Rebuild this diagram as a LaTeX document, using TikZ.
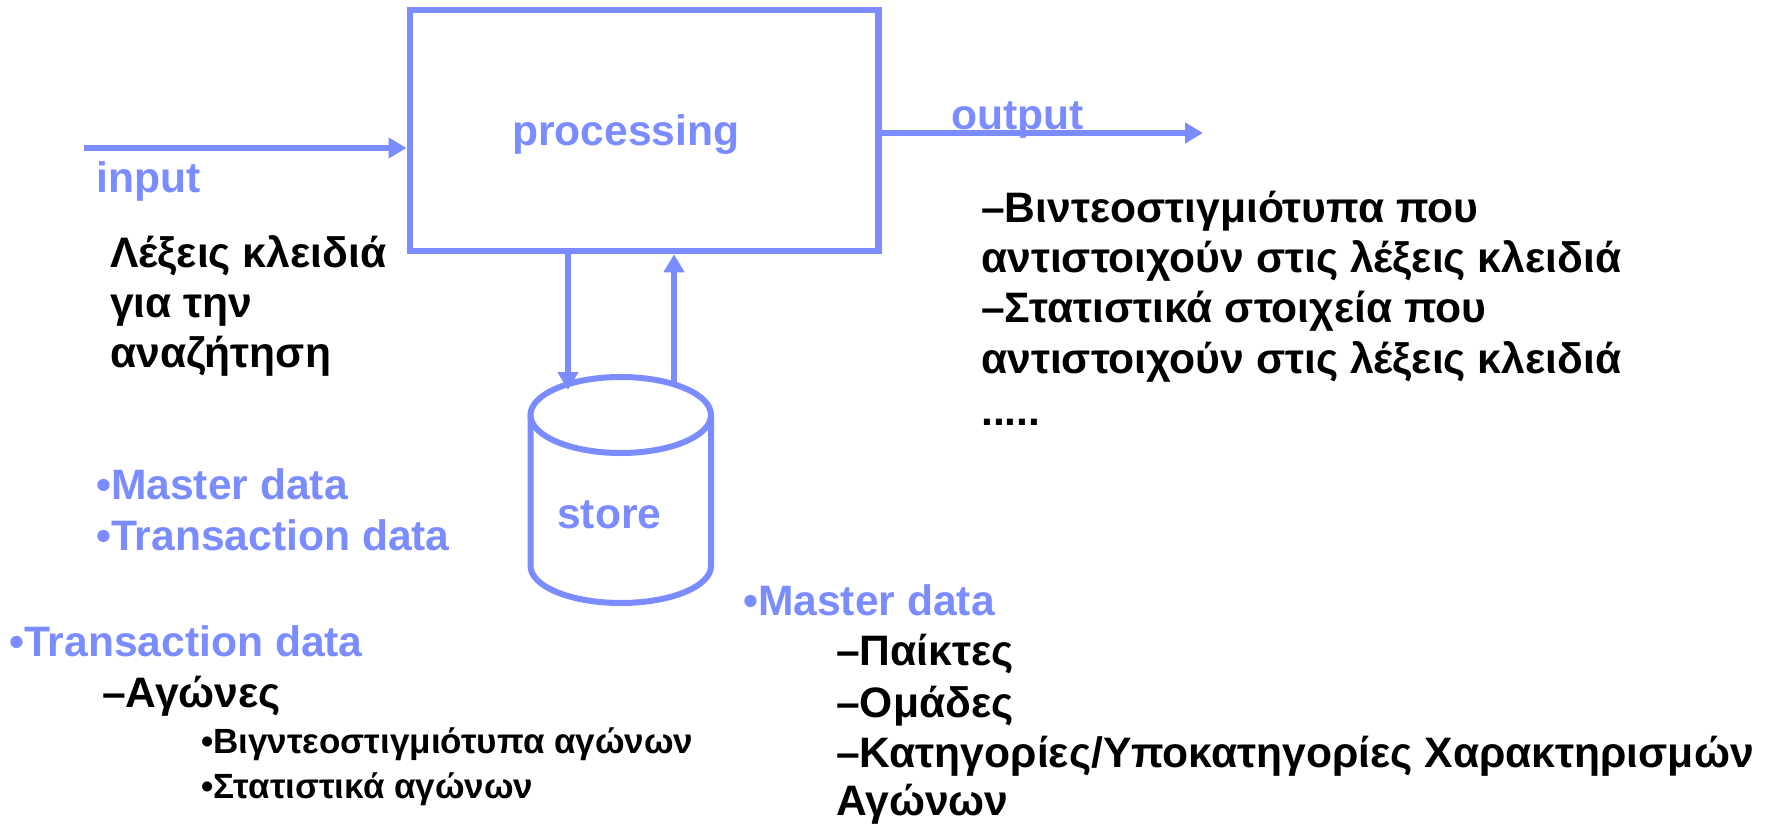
\documentclass[tikz,border=0pt]{standalone}
\usepackage{fontspec}
\setmainfont{Liberation Sans}
\usetikzlibrary{arrows.meta}
\definecolor{flowblue}{RGB}{122,140,255}
\tikzset{
  big/.style={inner sep=0pt, anchor=base west, font=\fontsize{42.6}{50}\bfseries\selectfont},
  small/.style={inner sep=0pt, anchor=base west, font=\fontsize{35}{42}\bfseries\selectfont},
  bluetext/.style={big, text=flowblue},
  blacktext/.style={big, text=black},
  subtext/.style={small, text=black},
  flow/.style={draw=flowblue, line width=6pt, -{Triangle[length=18pt,width=20pt]}},
  procbox/.style={draw=flowblue, line width=6.5pt, minimum width=468.5pt, minimum height=241pt, inner sep=0pt},
  dbline/.style={draw=flowblue, line width=6pt}
}
\begin{document}
\begin{tikzpicture}[x=1pt, y=-1pt]
\useasboundingbox (0,0) rectangle (1767,824);

% processing unit
\node[procbox] (proc) at (644,130.5) {};
\node[bluetext] (proclabel) at (512,146) {processing};

% data store drawn as a cylinder
\path[dbline] (530.5,415) -- (530.5,566) arc[start angle=180, end angle=360, x radius=90.25pt, y radius=37pt] -- (711,415);
\path[dbline] (620.75,415) ellipse[x radius=90.25pt, y radius=38pt];
\node[bluetext] (storelabel) at (557,528) {store};

% connectors
\coordinate (instart) at (84,148);
\coordinate (outend) at (1203,133);
\coordinate (dbin) at (568,390);
\coordinate (dbout) at (674,384);
\draw[flow] (instart) -- (instart -| proc.west);
\draw[flow] (proc.east |- outend) -- (outend);
\draw[flow] (dbin |- proc.south) -- (dbin);
\draw[flow] (dbout) -- (dbout |- proc.south);

% input side
\node[bluetext] (inlabel) at (96,192) {input};
\node[blacktext] (kw1) at (110,267) {Λέξεις κλειδιά};
\node[blacktext] (kw2) at (110,317) {για την};
\node[blacktext] (kw3) at (110,367) {αναζήτηση};

% output side
\node[bluetext] (outlabel) at (951,130) {output};
\node[blacktext] (out1) at (981,222) {–Βιντεοστιγμιότυπα που};
\node[blacktext] (out2) at (981,272) {αντιστοιχούν στις λέξεις κλειδιά};
\node[blacktext] (out3) at (981,322) {–Στατιστικά στοιχεία που};
\node[blacktext] (out4) at (981,373) {αντιστοιχούν στις λέξεις κλειδιά};
\node[blacktext] (out5) at (981,425) {.....};

% store contents
\node[bluetext] (st1) at (96,499) {•Master data};
\node[bluetext] (st2) at (96,550) {•Transaction data};

% transaction data
\node[bluetext] (tr) at (9,656) {•Transaction data};
\node[blacktext] (tr1) at (102,707) {–Αγώνες};
\node[subtext] (tr2) at (201,753) {•Βιγντεοστιγμιότυπα αγώνων};
\node[subtext] (tr3) at (201,798) {•Στατιστικά αγώνων};

% master data
\node[bluetext] (ms) at (743,615) {•Master data};
\node[blacktext] (ms1) at (836,665) {–Παίκτες};
\node[blacktext] (ms2) at (836,717) {–Ομάδες};
\node[blacktext] (ms3) at (836,767) {–Κατηγορίες/Υποκατηγορίες Χαρακτηρισμών};
\node[blacktext] (ms4) at (836,815) {Αγώνων};
\end{tikzpicture}
\end{document}
